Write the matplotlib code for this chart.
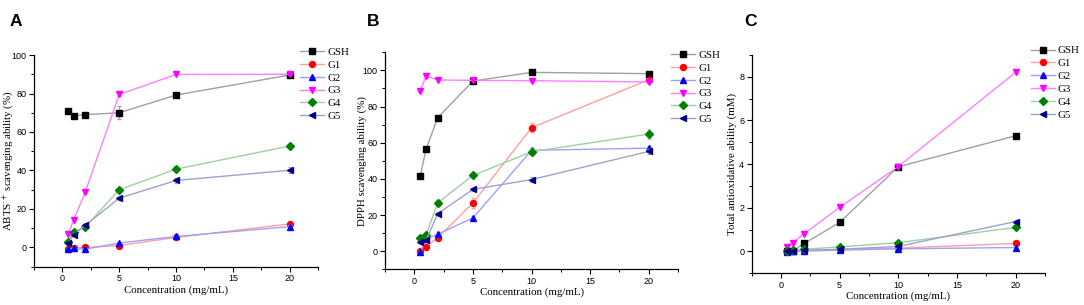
import numpy as np
import matplotlib.pyplot as plt
from matplotlib.ticker import MultipleLocator

plt.rcParams['mathtext.fontset'] = 'stix'

conc = [0.5, 1, 2, 5, 10, 20]
groups = ['GSH', 'G1', 'G2', 'G3', 'G4', 'G5']

# panel A - ABTS
abts_gsh = [70.8, 68.4, 69.0, 70.0, 79.2, 89.6]
abts_g1 = [-0.9, -0.4, 0.0, 1.0, 5.2, 12.2]
abts_g2 = [-0.6, -0.5, -0.9, 2.3, 5.7, 10.8]
abts_g3 = [7.0, 14.5, 28.7, 79.5, 89.9, 90.0]
abts_g4 = [2.6, 8.2, 10.5, 30.0, 40.7, 52.7]
abts_g5 = [2.1, 6.6, 11.5, 25.6, 34.8, 40.1]
abts_err = [[0.5, 0.5, 0.6, 3.5, 0.8, 0.8],
            [0.4, 0.4, 0.4, 0.5, 0.6, 0.8],
            [0.4, 0.4, 0.4, 0.5, 0.9, 0.7],
            [0.4, 0.5, 0.6, 0.6, 0.5, 0.5],
            [0.4, 0.5, 0.6, 0.8, 0.8, 0.8],
            [0.4, 0.5, 0.6, 0.8, 1.2, 1.5]]

# panel B - DPPH
dpph_gsh = [41.4, 56.4, 73.9, 94.1, 98.9, 98.2]
dpph_g1 = [0.0, 2.6, 7.5, 26.7, 68.3, 94.8]
dpph_g2 = [-0.5, 6.5, 9.4, 18.4, 55.8, 57.0]
dpph_g3 = [88.8, 96.9, 94.7, 94.5, 94.3, 93.6]
dpph_g4 = [7.4, 9.0, 26.8, 41.9, 55.0, 64.8]
dpph_g5 = [5.0, 6.0, 20.8, 34.2, 39.6, 55.2]
dpph_err = [[0.6, 0.6, 0.6, 0.6, 0.6, 0.6],
            [0.5, 0.6, 0.8, 3.0, 2.5, 0.8],
            [0.5, 0.6, 1.5, 1.0, 1.5, 1.2],
            [0.6, 0.6, 0.6, 0.5, 0.5, 0.5],
            [0.5, 0.6, 0.8, 0.8, 2.0, 3.0],
            [0.5, 0.6, 0.8, 0.8, 1.2, 1.2]]

# panel C - total antioxidative ability
tac_gsh = [0.0, 0.02, 0.37, 1.33, 3.88, 5.30]
tac_g1 = [0.0, 0.01, 0.04, 0.10, 0.15, 0.37]
tac_g2 = [-0.02, 0.0, 0.02, 0.06, 0.12, 0.18]
tac_g3 = [0.21, 0.41, 0.82, 2.02, 3.89, 8.21]
tac_g4 = [0.02, 0.07, 0.10, 0.21, 0.40, 1.10]
tac_g5 = [0.0, 0.02, 0.05, 0.10, 0.23, 1.37]
tac_err = [[0.02, 0.02, 0.03, 0.04, 0.05, 0.10],
           [0.01, 0.01, 0.02, 0.02, 0.02, 0.03],
           [0.01, 0.01, 0.02, 0.02, 0.02, 0.03],
           [0.02, 0.02, 0.02, 0.03, 0.04, 0.05],
           [0.01, 0.01, 0.02, 0.02, 0.03, 0.04],
           [0.01, 0.01, 0.02, 0.02, 0.03, 0.05]]

markers = ['s', 'o', '^', 'v', 'D', '<']
mcolors = ['black', '#ff0000', '#0000ff', '#ff00ff', '#008000', '#000080']
lcolors = ['#a0a0a0', '#ffa0a0', '#a0a0ff', '#ff80ff', '#a0d0a0', '#a0a0d0']
msizes = [4, 4.3, 4.5, 4.5, 4, 4.5]

serif = 'Liberation Serif'
sans = 'Liberation Sans'

fig = plt.figure(figsize=(10.84, 3.05), dpi=100)

panels = [
    ('A', [0.0314, 0.1256, 0.262, 0.694], [abts_gsh, abts_g1, abts_g2, abts_g3, abts_g4, abts_g5], abts_err,
     (-10, 100), 20, 10, r'ABTS$^{\cdot+}$ scavenging ability (%)', (0.277, 0.845), -0.064),
    ('B', [0.3552, 0.117, 0.2703, 0.7115], [dpph_gsh, dpph_g1, dpph_g2, dpph_g3, dpph_g4, dpph_g5], dpph_err,
     (-10, 110), 20, 10, 'DPPH scavenging ability (%)', (0.619, 0.835), -0.061),
    ('C', [0.6934, 0.104, 0.2706, 0.7157], [tac_gsh, tac_g1, tac_g2, tac_g3, tac_g4, tac_g5], tac_err,
     (-1, 9), 2, 1, 'Total antioxidative ability (mM)', (0.951, 0.850), -0.050),
]
letter_x = [0.009, 0.338, 0.687]

for i, (letter, rect, series, errs, ylim, ymaj, ymin, ylabel, legpos, ylab_x) in enumerate(panels):
    ax = fig.add_axes(rect)
    for k in range(6):
        ax.errorbar(conc, series[k], yerr=errs[k], fmt='none', ecolor=lcolors[k],
                    elinewidth=0.8, capsize=1.5, zorder=2 + k)
        ax.plot(conc, series[k], color=lcolors[k], lw=1, marker=markers[k], ms=msizes[k],
                mfc=mcolors[k], mec=mcolors[k], label=groups[k], zorder=3 + k)
    ax.set_xlim(-2.5, 22.5)
    ax.set_ylim(*ylim)
    ax.set_xticks([0, 5, 10, 15, 20])
    ax.xaxis.set_minor_locator(MultipleLocator(2.5))
    ax.yaxis.set_major_locator(MultipleLocator(ymaj))
    ax.yaxis.set_minor_locator(MultipleLocator(ymin))
    ax.spines['top'].set_visible(False)
    ax.spines['right'].set_visible(False)
    ax.spines['left'].set_linewidth(0.9)
    ax.spines['bottom'].set_linewidth(0.9)
    ax.tick_params(which='major', direction='out', length=3.5, width=0.8, labelsize=6.5, pad=1.8)
    ax.tick_params(which='minor', direction='out', length=2, width=0.7)
    for t in ax.get_xticklabels() + ax.get_yticklabels():
        t.set_fontfamily(sans)
    ax.set_xlabel('Concentration (mg/mL)', fontfamily=serif, fontsize=7.8, labelpad=1.5)
    ax.set_ylabel(ylabel, fontfamily=serif, fontsize=7.8)
    ax.yaxis.set_label_coords(ylab_x, 0.5)
    ax.legend(loc='upper left', bbox_to_anchor=legpos, bbox_transform=fig.transFigure,
              frameon=False, prop={'family': serif, 'size': 7.8}, handlelength=2.2,
              handletextpad=0.3, labelspacing=0.3, borderpad=0, borderaxespad=0)
    fig.text(letter_x[i], 0.955, letter, fontfamily=sans, fontweight='bold', fontsize=12.5,
             va='top', ha='left')

fig.savefig('out.png', dpi=100)
